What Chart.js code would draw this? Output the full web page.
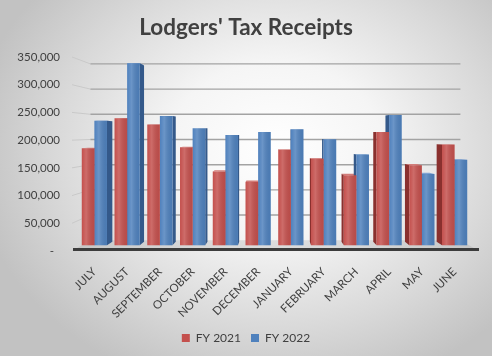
<!DOCTYPE html>
<html>
<head>
<meta charset="utf-8">
<script src="https://cdn.jsdelivr.net/npm/chart.js@4.4.1/dist/chart.umd.min.js"></script>
<style>
  html, body { margin: 0; padding: 0; }
  body {
    width: 492px; height: 356px; overflow: hidden;
    background: radial-gradient(ellipse 62% 70% at 56% 42%, #ffffff 0%, #f5f5f5 35%, #d9d9d9 72%, #c2c2c2 100%);
  }
  #wrap { width: 492px; height: 356px; }
</style>
</head>
<body>
<div id="wrap"><canvas id="c" width="492" height="356"></canvas></div>
<script>
// ---- data ----
const categories = ['JULY', 'AUGUST', 'SEPTEMBER', 'OCTOBER', 'NOVEMBER', 'DECEMBER',
                    'JANUARY', 'FEBRUARY', 'MARCH', 'APRIL', 'MAY', 'JUNE'];
const fy2021 = [184000, 241000, 229000, 186000, 140000, 120000, 181000, 164000, 133000, 215000, 152000, 191000];
const fy2022 = [236000, 345000, 245000, 222000, 209000, 215000, 220000, 201000, 172000, 247000, 135000, 162000];
const seriesNames = ['FY 2021', 'FY 2022'];
const yTickValues = [0, 50000, 100000, 150000, 200000, 250000, 300000, 350000];

const FONT = 'Lato, "Open Sans", "Liberation Sans", sans-serif';
const TEXT = '#404040';
const COLORS = [
  { front: '#C4504D', side: '#8A302E', top: '#D27C79' },
  { front: '#4F81BD', side: '#34598A', top: '#7FA3D3' }
];

// perspective helpers (vanishing point in pixel space)
function vanishing(chart) {
  const a = chart.chartArea;
  return { x: (a.left + a.right) / 2, y: chart.scales.yLabels.getPixelForValue(213000) };
}
function persp(vp, x, y, g) { return [x + (vp.x - x) * g, y + (vp.y - y) * g]; }
function quad(ctx, pts, fill) {
  ctx.beginPath();
  ctx.moveTo(pts[0][0], pts[0][1]);
  for (let i = 1; i < pts.length; i++) ctx.lineTo(pts[i][0], pts[i][1]);
  ctx.closePath();
  ctx.fillStyle = fill;
  ctx.fill();
}

const threeD = {
  id: 'threeD',
  beforeDatasetsDraw(chart) {
    const ctx = chart.ctx, a = chart.chartArea, vp = vanishing(chart);
    const yl = chart.scales.yLabels;
    const WALL = 0.0909;
    const fl = a.left - 6, fr = a.right + 8;
    const y0 = yl.getPixelForValue(0);
    ctx.save();
    // floor
    const bl = persp(vp, fl, y0, WALL), br = persp(vp, fr, y0, WALL);
    quad(ctx, [[fl, y0], [fr, y0], br, bl], 'rgba(150,150,150,0.25)');
    // wall gridlines
    yl.ticks.forEach(t => {
      if (t.value === 0) return;
      const yF = yl.getPixelForValue(t.value);
      const pl = persp(vp, fl, yF, WALL), pr = persp(vp, fr, yF, WALL);
      ctx.beginPath();
      ctx.moveTo(fl, yF); ctx.lineTo(pl[0], pl[1]);
      ctx.strokeStyle = '#c9c9c9'; ctx.lineWidth = 1; ctx.stroke();
      ctx.beginPath();
      ctx.moveTo(pl[0], pl[1]); ctx.lineTo(pr[0], pl[1]);
      ctx.strokeStyle = '#a3a3a3'; ctx.lineWidth = 1.4; ctx.stroke();
    });
    // floor front edge
    ctx.fillStyle = '#3c3c3c';
    ctx.fillRect(fl + 1, y0 - 3, fr - fl - 1, 3);
    // bar side / top faces
    const DEPTH = 0.032;
    chart.data.datasets.forEach((ds, di) => {
      const meta = chart.getDatasetMeta(di);
      const c = COLORS[di];
      meta.data.forEach(el => {
        const p = el.getProps(['x', 'y', 'base', 'width'], true);
        const L = p.x - p.width / 2, R = p.x + p.width / 2, T = p.y, B = p.base;
        quad(ctx, [[L, T], [R, T], persp(vp, R, T, DEPTH), persp(vp, L, T, DEPTH)], c.top);
        if (R < vp.x) {
          quad(ctx, [[R, T], persp(vp, R, T, DEPTH), persp(vp, R, B, DEPTH), [R, B]], c.side);
        } else if (L > vp.x) {
          quad(ctx, [[L, T], persp(vp, L, T, DEPTH), persp(vp, L, B, DEPTH), [L, B]], c.side);
        }
      });
    });
    ctx.restore();
  },
  afterDatasetsDraw(chart) {
    const ctx = chart.ctx;
    ctx.save();
    chart.data.datasets.forEach((ds, di) => {
      chart.getDatasetMeta(di).data.forEach(el => {
        const p = el.getProps(['x', 'y', 'base', 'width'], true);
        const L = p.x - p.width / 2;
        const g = ctx.createLinearGradient(L, 0, L + p.width, 0);
        g.addColorStop(0, 'rgba(255,255,255,0)');
        g.addColorStop(0.35, 'rgba(255,255,255,0.16)');
        g.addColorStop(1, 'rgba(0,0,0,0.05)');
        ctx.fillStyle = g;
        ctx.fillRect(L, p.y, p.width, p.base - p.y);
      });
    });
    ctx.restore();
  }
};

new Chart(document.getElementById('c'), {
  type: 'bar',
  data: {
    labels: categories,
    datasets: [
      { label: seriesNames[0], data: fy2021, backgroundColor: COLORS[0].front, borderWidth: 0 },
      { label: seriesNames[1], data: fy2022, backgroundColor: COLORS[1].front, borderWidth: 0 }
    ]
  },
  options: {
    responsive: false,
    devicePixelRatio: 1,
    animation: false,
    datasets: { bar: { categoryPercentage: 0.77, barPercentage: 1.0 } },
    layout: { padding: { left: 0, right: 0, top: 6, bottom: 2 } },
    plugins: {
      title: {
        display: true, text: "Lodgers' Tax Receipts", color: TEXT,
        font: { family: FONT, size: 22.5, weight: 'bold' },
        padding: { top: 8, bottom: 16 }
      },
      legend: {
        position: 'bottom',
        labels: {
          color: TEXT, boxWidth: 8, boxHeight: 8, padding: 10,
          font: { family: FONT, size: 12 }
        }
      },
      tooltip: { enabled: false }
    },
    scales: {
      x: {
        grid: { display: false }, border: { display: false },
        ticks: {
          color: TEXT, autoSkip: false, minRotation: 45, maxRotation: 45, padding: 6,
          font: { family: FONT, size: 11.5 }
        },
        afterFit(s) { s.height = 71; }
      },
      y: { display: false, min: -10800, max: 357000 },
      yLabels: {
        position: 'left', min: 0, max: 350000,
        grid: { display: false }, border: { display: false },
        afterBuildTicks(s) { s.ticks = yTickValues.map(v => ({ value: v })); },
        afterFit(s) { s.width = 78; },
        ticks: {
          color: TEXT, padding: 10,
          font: { family: FONT, size: 11.5 },
          callback: v => v === 0 ? '-  ' : v.toLocaleString('en-US')
        }
      },
      yRight: {
        position: 'right', min: 0, max: 1,
        grid: { display: false }, border: { display: false },
        ticks: { display: false },
        afterFit(s) { s.width = 21; }
      }
    }
  },
  plugins: [threeD]
});
</script>
</body>
</html>
